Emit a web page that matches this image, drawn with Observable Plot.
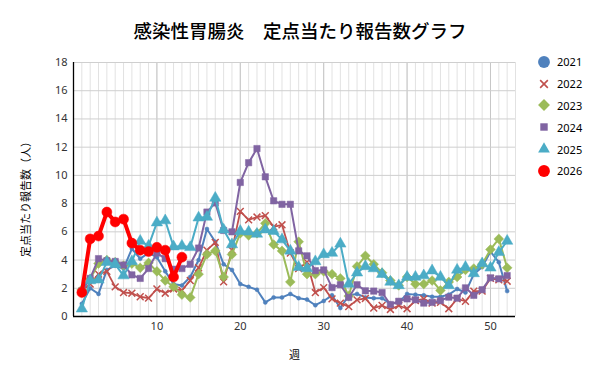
<!DOCTYPE html>
<html><head><meta charset="utf-8">
<script src="https://cdn.jsdelivr.net/npm/d3@7"></script>
<script src="https://cdn.jsdelivr.net/npm/@observablehq/plot@0.6"></script>
<style>
body{margin:0;background:#fff;font-family:"Noto Sans","Noto Sans CJK JP",sans-serif;}
#wrap{position:relative;width:600px;height:384px;overflow:hidden;}
#title{position:absolute;left:0;top:17px;width:600px;text-align:center;font-family:"Noto Sans CJK JP",sans-serif;font-size:18.5px;font-weight:500;line-height:26px;color:#000;}
#legend{position:absolute;left:535px;top:51px;font-size:11px;color:#000;}
.li{height:21.8px;display:flex;align-items:center;}
.li svg{width:18px;height:18px;margin-right:4px;}
</style></head>
<body>
<div id="wrap">
<div id="chart"></div>
<div id="title">感染性胃腸炎　定点当たり報告数グラフ</div>
<div id="legend"></div>
</div>
<script>
const title = "感染性胃腸炎　定点当たり報告数グラフ";
const yLabel = "定点当たり報告数（人）";
const xLabel = "週";
const years = ["2021","2022","2023","2024","2025","2026"];
const colors = ["#4F81BD","#C0504D","#9BBB59","#8064A2","#4BACC6","#FF0000"];
const xTicks = [10,20,30,40,50];
const yTicks = [0,2,4,6,8,10,12,14,16,18];

const v2021 = [0.9,2.0,1.6,3.3,3.6,3.4,4.8,4.1,4.5,4.2,3.2,2.3,2.2,2.8,4.0,6.2,5.3,3.7,3.3,2.3,2.1,1.9,1.0,1.35,1.35,1.6,1.3,1.2,0.8,1.1,1.5,0.6,1.5,1.6,1.35,1.3,1.3,0.9,1.0,1.6,1.55,1.5,1.4,1.4,1.55,1.95,1.7,3.0,3.5,4.6,3.85,1.8];
const v2022 = [1.8,2.3,3.0,3.2,2.1,1.7,1.65,1.4,1.3,1.95,1.65,1.95,1.85,2.55,3.45,4.7,5.25,2.45,4.7,7.45,6.85,7.05,7.15,6.35,6.5,4.5,3.4,3.85,1.7,2.05,1.25,0.95,0.7,1.18,1.28,0.6,0.78,0.5,0.78,0.55,1.13,1.25,0.95,1.0,0.55,1.25,1.08,1.8,1.8,2.7,2.6,2.5];
const v2023 = [1.9,2.65,3.75,4.0,3.85,3.6,3.75,3.45,3.8,3.2,2.55,2.1,1.55,1.35,3.0,4.4,4.65,2.8,4.4,5.9,5.75,5.9,6.6,5.1,4.65,2.45,5.3,3.0,3.0,3.2,3.0,2.7,1.45,3.55,4.3,3.7,3.1,2.55,2.2,2.8,2.3,2.3,2.55,1.85,2.45,2.8,3.3,3.4,3.7,4.75,5.5,3.45];
const v2024 = [1.8,2.7,4.1,3.95,3.9,3.65,2.95,2.7,3.4,4.5,4.1,3.35,3.4,3.7,4.85,7.4,8.05,6.1,6.0,9.5,10.9,11.9,9.9,8.2,7.95,7.95,4.65,4.3,3.25,3.3,2.05,2.25,1.35,2.25,1.82,1.8,1.7,0.85,1.08,1.25,1.18,0.95,1.0,1.13,1.37,1.3,2.03,1.5,1.9,2.74,2.67,2.9];
const v2025 = [0.55,2.55,2.6,3.85,3.7,2.9,3.9,5.35,5.0,6.65,6.8,4.95,5.0,4.9,7.0,7.05,8.4,6.15,5.1,6.05,6.0,5.85,6.15,6.05,5.45,4.65,3.5,3.4,3.9,4.4,4.5,5.15,2.3,3.1,3.55,3.4,3.0,2.45,2.2,2.8,2.8,2.9,3.25,2.8,2.2,3.3,3.5,3.05,3.75,3.45,4.55,5.35];
const v2026 = [1.7,5.5,5.7,7.4,6.7,6.9,5.2,4.7,4.6,4.9,4.7,2.8,4.2];

const seriesVals = [v2021,v2022,v2023,v2024,v2025,v2026];
const styles = [
  {symbol:"circle", r:2, fill:true, sw:2},
  {symbol:"times", r:3.2, fill:false, sw:1.8},
  {symbol:"diamond2", r:4.4, fill:true, sw:2},
  {symbol:"square", r:3.6, fill:true, sw:2},
  {symbol:"triangle", r:4.2, fill:true, sw:2},
  {symbol:"circle", r:5, fill:true, sw:4}
];

const marks = [
  Plot.gridX(d3.range(1,54), {stroke:"#e2e2e2", strokeOpacity:1, strokeWidth:1}),
  Plot.gridX(xTicks, {stroke:"#c6c6c6", strokeOpacity:1, strokeWidth:1}),
  Plot.gridY(yTicks.filter(d=>d>0), {stroke:"#cfcfcf", strokeOpacity:1, strokeWidth:1}),
  Plot.axisX(xTicks, {tickSize:0, tickPadding:6, label:null, fontSize:11, fill:"#333"}),
  Plot.axisY(yTicks, {tickSize:0, tickPadding:6, label:null, fontSize:11, fill:"#333"}),
  Plot.ruleX([0], {stroke:"#000", strokeWidth:1.3}),
  Plot.ruleY([0], {stroke:"#000", strokeWidth:1.3}),
  Plot.text([xLabel], {frameAnchor:"bottom", dy:42, fontSize:11, fill:"#000", fontFamily:"Noto Sans CJK JP"}),
  Plot.text([yLabel], {frameAnchor:"left", textAnchor:"middle", dx:-47, dy:7, rotate:-90, fontSize:11, fill:"#000", fontFamily:"Noto Sans CJK JP"})
];

years.forEach((yr, i) => {
  const data = seriesVals[i].map((v, k) => ({year: yr, week: k + 1, value: v}));
  const st = styles[i];
  marks.push(Plot.line(data, {x:"week", y:"value", stroke:colors[i], strokeWidth:st.sw}));
  marks.push(Plot.dot(data, {x:"week", y:"value", symbol:st.symbol, r:st.r,
    fill: st.fill ? colors[i] : "none", stroke: colors[i], strokeWidth: st.fill ? 0.5 : 1.5}));
});

const chart = Plot.plot({
  width:600, height:384,
  marginLeft:73, marginRight:85, marginTop:62, marginBottom:68,
  style:{fontFamily:'"Noto Sans","Noto Sans CJK JP",sans-serif', fontSize:"11px", background:"#fff", color:"#000"},
  x:{domain:[0,53]},
  y:{domain:[0,18]},
  marks
});
document.getElementById("chart").appendChild(chart);

// legend
const legSyms = [
  {t:d3.symbolCircle, s:110, fill:true},
  {t:d3.symbolTimes, s:40, fill:false},
  {t:d3.symbolDiamond2, s:90, fill:true},
  {t:d3.symbolSquare, s:55, fill:true},
  {t:d3.symbolTriangle, s:60, fill:true},
  {t:d3.symbolCircle, s:110, fill:true}
];
const leg = d3.select("#legend");
years.forEach((yr, i) => {
  const row = leg.append("div").attr("class","li");
  const svg = row.append("svg").attr("viewBox","-9 -9 18 18");
  const ls = legSyms[i];
  svg.append("path").attr("d", d3.symbol(ls.t, ls.s)())
    .attr("fill", ls.fill ? colors[i] : "none")
    .attr("stroke", colors[i]).attr("stroke-width", ls.fill ? 0 : 1.6);
  row.append("span").text(yr);
});
</script>
</body></html>
